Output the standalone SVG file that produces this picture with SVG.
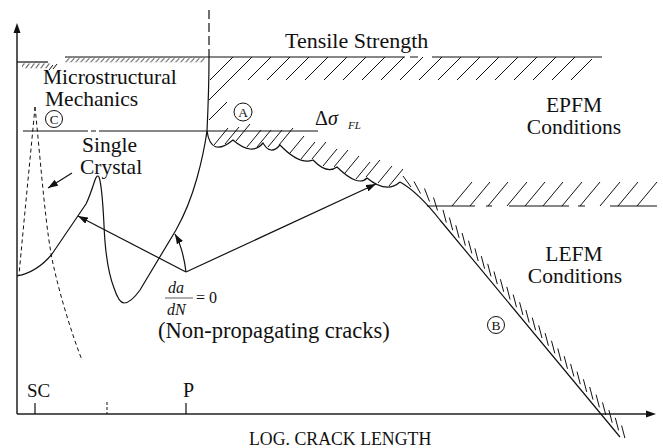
<svg xmlns="http://www.w3.org/2000/svg" width="663" height="448" viewBox="0 0 663 448">
<style>
.ln{stroke:#111;stroke-width:1.2;fill:none}
.ax{stroke:#222;stroke-width:1.5;fill:none}
.ht{stroke:#111;stroke-width:1;fill:none}
.ds{stroke:#111;stroke-width:1;fill:none;stroke-dasharray:4,3}
.t{font-family:"Liberation Serif","Times New Roman",serif;fill:#111}
.it{font-style:italic}
</style>
<defs>
<marker id="ah" markerWidth="10" markerHeight="7" refX="10" refY="3.5" orient="auto" markerUnits="userSpaceOnUse">
<path d="M0,0 L10,3.5 L0,7 z" fill="#111"/>
</marker>
<pattern id="hs" x="0" y="57.5" width="5" height="5" patternUnits="userSpaceOnUse">
<path d="M0.5,5 L4.5,0.5" stroke="#111" stroke-width="0.9"/>
</pattern>
<pattern id="hs2" x="0" y="62.5" width="5" height="6" patternUnits="userSpaceOnUse">
<path d="M0.5,6 L4.5,0.8" stroke="#111" stroke-width="0.9"/>
</pattern>
</defs>
<rect width="663" height="448" fill="#fff"/>

<g id="axes">
<path class="ax" d="M17,414 L17,32 M17,414 L647,414"/>
<polygon points="17,23 13.5,33 20.5,33" fill="#111"/>
<polygon points="656,414 646,410.5 646,417.5" fill="#111"/>
<path class="ln" d="M35,403 L35,414 M186,403 L186,414"/>
<path class="ht" d="M107,402 L107,414" stroke-dasharray="3,2"/>
<text class="t" x="27" y="397" font-size="19">SC</text>
<text class="t" x="183" y="397" font-size="20">P</text>
<text class="t" x="249" y="445" font-size="17.8">LOG. CRACK LENGTH</text>
</g>

<g id="tensile-strength">
<path class="ln" d="M65,57 L405,57 M410,57 L418,57 M432,57 L602,57"/>
<path class="ln" d="M17,62 L48,62"/>
<rect x="65" y="57.5" width="140" height="5" fill="url(#hs)"/>
<rect x="22" y="62.5" width="28" height="6" fill="url(#hs2)"/>
<path class="ht" d="M49,70 l4,-5 M53,69 l4,-5"/>
<path class="ht" d="M210,80 l23,-23 M229,80 l23,-23 M248,80 l23,-23 M267,80 l23,-23 M286,80 l23,-23 M305,80 l23,-23 M324,80 l23,-23 M343,80 l23,-23 M362,80 l23,-23 M381,80 l23,-23 M400,80 l23,-23 M419,80 l23,-23 M438,80 l23,-23 M457,80 l23,-23 M476,80 l23,-23 M495,80 l23,-23 M514,80 l23,-23 M533,80 l23,-23 M552,80 l23,-23 M571,80 l21,-21"/>
<text class="t" x="285" y="48" font-size="22">Tensile Strength</text>
</g>

<g id="microstructural">
<path class="ln" d="M209,10 L209,57" stroke-dasharray="9,4"/>
<text class="t" x="43" y="84" font-size="21.5">Microstructural</text>
<text class="t" x="45" y="106" font-size="21.5">Mechanics</text>
<circle cx="54" cy="119" r="8.5" class="ht"/>
<text class="t" x="54" y="124" font-size="13" text-anchor="middle">C</text>
<path class="ds" d="M35,107 C31,150 24,220 19,275"/>
<path class="ds" d="M35,107 C41,165 46,235 54,268 C60,295 72,335 82,360"/>
</g>

<g id="single-crystal">
<path class="ln" d="M17,276 C32,273 43,265 52,254 L86,204 C90,196 93,186 95,180 Q97,174 99,177 C102,185 103,205 104,225 C105,250 109,275 114,288 C117,297 120,303 124,303 C130,303 135,297 140,290 L176,230 C185,214 192,196 197,178 C202,160 205,145 207,131 C208,110 209,80 209,57"/>
<text class="t" x="82" y="152" font-size="21.5">Single</text>
<text class="t" x="80" y="174" font-size="21.5">Crystal</text>
</g>

<g id="fatigue-limit">
<path class="ln" d="M23,131 L88,131 M91,131 L96,131 M99,131 L318,131"/>
<text class="t" x="315" y="125" font-size="20">Δ<tspan class="it">σ</tspan></text>
<text class="t it" x="348" y="129" font-size="11">FL</text>
<circle cx="243" cy="112" r="9" class="ht"/>
<text class="t" x="243" y="117" font-size="13.5" text-anchor="middle">A</text>
<path class="ln" d="M207,131 Q211,158 233,140 Q252,156.5 263,143 Q270.5,156 280,145 Q299.5,165.5 313,160 Q327,174.5 337,167 Q358,187.5 367,178 Q386.5,194 400,182"/>
<path class="ht" d="M209,100 l20,-20 M209,120 l18,-18 M214,145 l14,-17 M225,144 l14,-17 M236,141 l14,-17 M247,147 l14,-17 M257,147 l14,-17 M268,147 l14,-17 M279,145 l14,-17 M290,153 l14,-17 M301,159 l14,-17 M312,159 l14,-17 M323,166 l14,-17 M334,167 l14,-17 M345,173 l14,-17 M356,179 l14,-17 M366,177 l14,-17 M378,183 l14,-17 M389,186 l14,-17"/>
</g>

<g id="lefm-boundary">
<path class="ln" d="M400,182 Q418,192 440,220 L620,437"/>
<path class="ht" d="M403,176 L411,187 M414,181.5 L420.5,193.5 M424.5,188.5 L429.5,201.5 M433.5,197.5 L437.5,210.5 M443,209.9 l3.3,12.6 M449.4,217.6 l3.3,12.6 M455.8,225.3 l3.3,12.6 M462.1,233 l3.3,12.6 M468.5,240.7 l3.3,12.6 M474.9,248.4 l3.3,12.6 M481.3,256.1 l3.3,12.6 M487.7,263.8 l3.3,12.6 M494,271.5 l3.3,12.6 M500.4,279.2 l3.3,12.6 M506.8,286.9 l3.3,12.6 M513.2,294.6 l3.3,12.6 M519.6,302.3 l3.3,12.6 M525.9,310 l3.3,12.6 M532.3,317.7 l3.3,12.6 M538.7,325.4 l3.3,12.6 M545.1,333.1 l3.3,12.6 M551.5,340.8 l3.3,12.6 M557.8,348.5 l3.3,12.6 M564.2,356.2 l3.3,12.6 M570.6,363.9 l3.3,12.6 M577,371.6 l3.3,12.6 M583.4,379.3 l3.3,12.6 M589.7,387 l3.3,12.6 M596.1,394.7 l3.3,12.6 M602.5,402.4 l3.3,12.6 M608.9,410.1 l3.3,12.6 M615.3,417.8 l3.3,12.6 M621.6,425.5 l3.3,12.6"/>
<circle cx="496" cy="325" r="8.5" class="ht"/>
<text class="t" x="496" y="330" font-size="13.5" text-anchor="middle">B</text>
</g>

<g id="epfm-boundary">
<path class="ln" d="M427,206 L475,206 M486,206 L492,206 M509,206 L569,206 M578,206 L585,206 M610,206 L657,206"/>
<path class="ht" d="M452,206 l20,-24 M470,206 l20,-24 M488,206 l20,-24 M507,206 l20,-24 M525,206 l20,-24 M543,206 l20,-24 M562,206 l20,-24 M580,206 l20,-24 M600,206 l20,-24 M618,206 l20,-24 M637,206 l20,-24"/>
</g>

<g id="region-labels">
<text class="t" x="574" y="112" font-size="21.5" text-anchor="middle">EPFM</text>
<text class="t" x="574" y="134" font-size="21.5" text-anchor="middle">Conditions</text>
<text class="t" x="574" y="261" font-size="21.5" text-anchor="middle">LEFM</text>
<text class="t" x="575" y="283" font-size="21.5" text-anchor="middle">Conditions</text>
</g>

<g id="non-propagating">
<text class="t it" x="168" y="293" font-size="16">da</text>
<path d="M165,298 L193,298" stroke="#333" stroke-width="0.8"/>
<text class="t it" x="167" y="315" font-size="16">dN</text>
<text class="t" x="196" y="303" font-size="16">= 0</text>
<text class="t" x="158" y="338" font-size="22.5">(Non-propagating cracks)</text>
</g>

<g id="connectors">
<path class="ln" d="M72,173 L48,188" marker-end="url(#ah)"/>
<path class="ln" d="M186,272 L78,216" marker-end="url(#ah)"/>
<path class="ln" d="M186,272 L376,184" marker-end="url(#ah)"/>
<path class="ln" d="M186,272 Q183,248 175,234" marker-end="url(#ah)"/>
</g>
</svg>
